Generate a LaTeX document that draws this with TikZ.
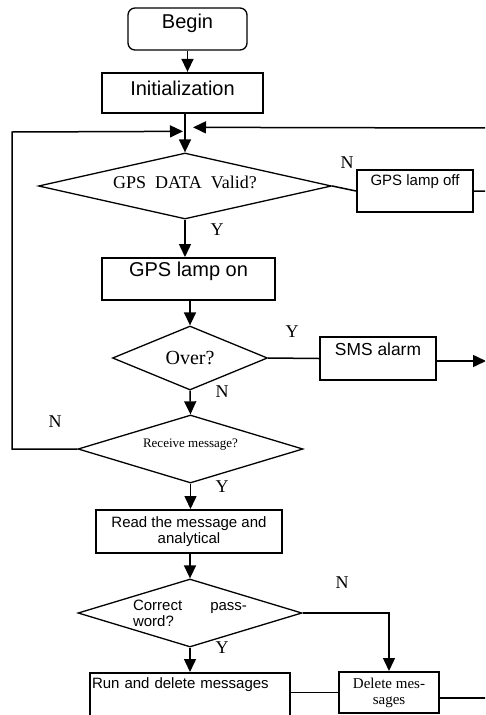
\documentclass[tikz,border=0pt]{standalone}
\usepackage{fontspec}
\setmainfont{Liberation Serif}
\newfontfamily\sansf{Liberation Sans}
\usetikzlibrary{shapes.geometric,arrows.meta,calc}
\begin{document}
\begin{tikzpicture}[x=1pt,y=-1pt,
  box/.style={draw, line width=2pt, inner sep=2pt},
  dia/.style={draw, diamond, line width=1.3pt, inner sep=0pt},
  arr/.style={line width=1.5pt, -{Triangle[width=12pt,length=13pt]}},
  ln/.style={line width=1.5pt},
  lab/.style={font=\fontsize{18}{18}\selectfont, inner sep=0pt},
  sA/.style={font=\sansf\fontsize{20}{22}\selectfont},
  sB/.style={font=\sansf\fontsize{15}{16}\selectfont},
  tb/.style 2 args={text height=#1, text depth=#2}]
\useasboundingbox (0,0) rectangle (485,715);
\clip (0,0) rectangle (485,715);
% boxes
\node[box, line width=1.3pt, rounded corners=7pt, minimum width=119pt, minimum height=42pt, sA, tb={14.3pt}{16pt}] (begin) at (187.5,29) {Begin};
\node[box, line width=2.3pt, minimum width=161pt, minimum height=40pt, sA, tb={14.5pt}{10.5pt}] (init) at (182.5,93) {Initialization};
\node[dia, shape aspect=4.4, minimum width=293pt, minimum height=66pt, font=\fontsize{18}{18}\selectfont, tb={12.3pt}{8pt}] (gps) at (185,186) {GPS\ \ DATA\ \ Valid?};
\node[box, minimum width=116pt, minimum height=42pt, sB, tb={11pt}{23pt}] (off) at (415,191) {GPS lamp off};
\node[box, minimum width=173pt, minimum height=42pt, sA, tb={14.5pt}{20.5pt}] (on) at (188.5,279) {GPS lamp on};
\node[dia, shape aspect=2.4, minimum width=155pt, minimum height=64pt, font=\fontsize{20}{20}\selectfont] (over) at (190,358) {Over?};
\node[box, minimum width=116pt, minimum height=43pt, font=\sansf\fontsize{17.4}{18}\selectfont, tb={12.5pt}{19.5pt}] (sms) at (378,358.5) {SMS alarm};
\node[dia, shape aspect=3.3, minimum width=225pt, minimum height=68pt, font=\fontsize{13}{13}\selectfont, tb={9pt}{13pt}] (rec) at (190.5,449) {Receive message?};
\node[box, minimum width=186pt, minimum height=43pt, sB, align=center] (read) at (189,531.5) {Read the message and\\analytical};
\node[dia, shape aspect=3.3, minimum width=224pt, minimum height=68pt, sB, text width=114pt, align=left] (cor) at (190,613) {Correct\hfill pass-\\word?};
\node[box, minimum width=200pt, minimum height=57pt, sB, text width=196pt, inner xsep=2pt, align=left, tb={11pt}{38pt}] (run) at (190,701.5) {Run and delete messages};
\node[box, minimum width=100pt, minimum height=41pt, font=\fontsize{15}{16}\selectfont, align=center] (del) at (389,692.5) {Delete mes-\\sages};
% helper coordinates
\coordinate (mL) at ($(gps.north)+(-2,-21)$);
\coordinate (mR) at ($(gps.north)+(8,-25)$);
\coordinate (lc) at (12,132);
\coordinate (rc) at (490,128);
\coordinate (smsend) at (486,361);
\coordinate (delend) at (490,698);
% connectors
\draw[arr] (begin.south) -- (begin.south |- init.north);
\draw[ln] (init.south -| gps.north) -- ($(gps.north)+(0,-21)$);
\draw[arr] ($(gps.north)+(0,-21)$) -- (gps.north);
\draw[arr] (rec.west) -| (lc) -- (mL);
\draw[arr] (off.east) -| (rc) -- (mR);
\draw[ln] (gps.east) -- (off.west);
\draw[arr] (gps.south) -- (gps.south |- on.north);
\draw[arr] (over.north |- on.south) -- (over.north);
\draw[ln] (over.east) -- (sms.west);
\draw[arr] (sms.east |- smsend) -- (smsend);
\draw[arr] (over.south) -- (rec.north);
\draw[arr] (rec.south) -- (rec.south |- read.north);
\draw[arr] (cor.north |- read.south) -- (cor.north);
\draw[arr] (cor.south) -- (cor.south |- run.north);
\draw[arr] (cor.east) -| (del.north);
\draw[ln] (del.west) -- (del.west -| run.east);
\draw[ln] (del.east |- delend) -- (delend);
% labels
\node[lab] (n1) at (347,163) {N};
\node[lab] (y1) at (217,230) {Y};
\node[lab] (y2) at (292,332) {Y};
\node[lab] (n2) at (222,392) {N};
\node[lab] (n3) at (55,422) {N};
\node[lab] (y3) at (222,487) {Y};
\node[lab] (n4) at (342,583) {N};
\node[lab] (y4) at (222,648) {Y};
\end{tikzpicture}
\end{document}
